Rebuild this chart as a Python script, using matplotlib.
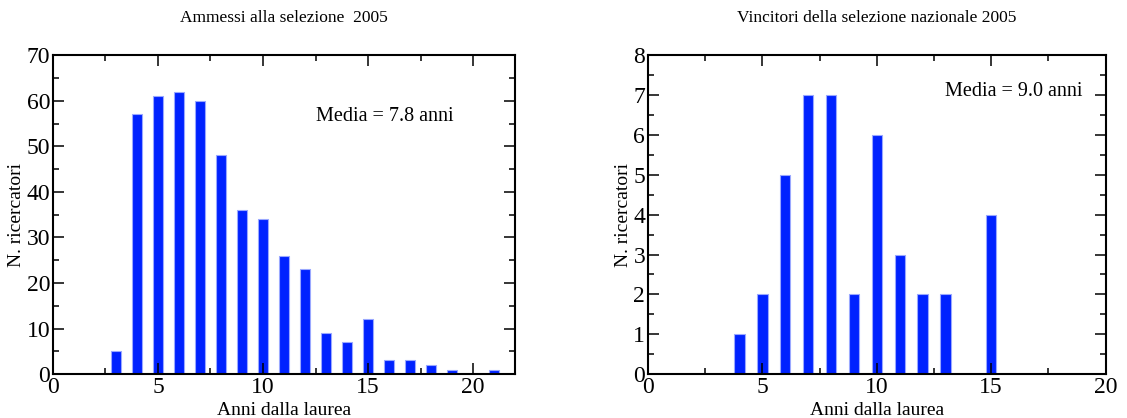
import matplotlib.pyplot as plt
from matplotlib.ticker import MultipleLocator

plt.rcParams['font.family'] = ['Liberation Serif', 'DejaVu Serif']

# years since degree and number of researchers
anni_ammessi = [1, 2, 3, 4, 5, 6, 7, 8, 9, 10, 11, 12, 13, 14, 15, 16, 17, 18, 19, 21]
n_ammessi = [0, 0, 5, 57, 61, 62, 60, 48, 36, 34, 26, 23, 9, 7, 12, 3, 3, 2, 1, 1]

anni_vincitori = [1, 2, 3, 4, 5, 6, 7, 8, 9, 10, 11, 12, 13, 14, 15, 16, 17, 18, 19]
n_vincitori = [0, 0, 0, 1, 2, 5, 7, 7, 2, 6, 3, 2, 2, 0, 4, 0, 0, 0, 0]

titles = ['Ammessi alla selezione  2005', 'Vincitori della selezione nazionale 2005']
medie = [7.8, 9.0]

bar_color = '#0022ff'

fig = plt.figure(figsize=(11.27, 4.18), dpi=100)
ax1 = fig.add_axes([0.047, 0.105, 0.410, 0.763])
ax2 = fig.add_axes([0.575, 0.105, 0.406, 0.763])


def style(ax, xmax, ymax, ymaj, ymin):
    ax.set_xlim(0, xmax)
    ax.set_ylim(0, ymax)
    ax.xaxis.set_major_locator(MultipleLocator(5))
    ax.xaxis.set_minor_locator(MultipleLocator(2.5))
    ax.yaxis.set_major_locator(MultipleLocator(ymaj))
    ax.yaxis.set_minor_locator(MultipleLocator(ymin))
    ax.tick_params(which='both', direction='in', top=True, right=True, width=1.1)
    ax.tick_params(which='major', length=8, labelsize=17)
    ax.tick_params(axis='x', which='major', pad=2)
    ax.tick_params(axis='y', which='major', pad=2)
    ax.tick_params(which='minor', length=4)
    for s in ax.spines.values():
        s.set_linewidth(1.5)
    ax.set_xlabel('Anni dalla laurea', fontsize=14, labelpad=3)
    ax.set_ylabel('N. ricercatori', fontsize=14, labelpad=1)


ax1.bar(anni_ammessi, n_ammessi, width=0.5, color=bar_color,
        edgecolor='#9aa8ff', linewidth=0.8)
style(ax1, 22, 70, 10, 5)
ax1.set_title(titles[0], fontsize=12.5, pad=24)
ax1.text(12.5, 56.5, f'Media = {medie[0]:.1f} anni', fontsize=14.5, va='center')

ax2.bar(anni_vincitori, n_vincitori, width=0.45, color=bar_color,
        edgecolor='#9aa8ff', linewidth=0.8)
ax2.bar([a for a, n in zip(anni_vincitori, n_vincitori) if n == 0],
        [0.02] * n_vincitori.count(0), width=0.45, color='#1a2a6e')
style(ax2, 20, 8, 1, 0.5)
ax2.set_title(titles[1], fontsize=12.5, pad=24)
ax2.text(13.0, 7.1, f'Media = {medie[1]:.1f} anni', fontsize=14.5, va='center')

fig.savefig('out.png', dpi=100)
